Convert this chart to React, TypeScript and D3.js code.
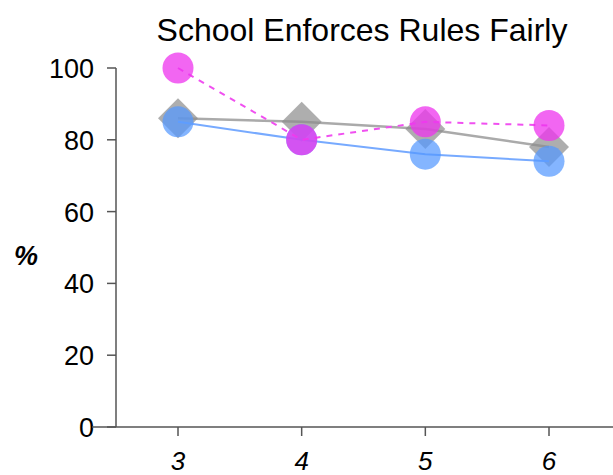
import React from "react";
import * as d3 from "d3";

const grades = [3, 4, 5, 6];
const grayValues = [86, 85, 83, 78];
const blueValues = [85, 80, 76, 74];
const magentaValues = [100, 80, 85, 84];
const yTicks = [0, 20, 40, 60, 80, 100];
const title = "School Enforces Rules Fairly";

export default function App() {
  const W = 613, H = 475;
  const x = d3.scaleLinear().domain([3, 6]).range([178, 549]);
  const y = d3.scaleLinear().domain([0, 100]).range([427, 68]);
  const line = (vals: number[]) =>
    d3.line<number>().x((_, i) => x(grades[i])).y((d) => y(d))(vals) || "";
  const font = "Liberation Sans, Arial, Helvetica, sans-serif";
  const diamond = d3.symbol().type(d3.symbolSquare).size(2 * 20 * 20)();
  return (
    <svg width={W} height={H} style={{ position: "absolute", left: 0, top: 0 }} fontFamily={font}>
      <rect width={W} height={H} fill="white" />
      <text x={362} y={41} textAnchor="middle" fontSize={32} fill="#000">{title}</text>
      {/* y axis */}
      <line x1={116} x2={116} y1={68} y2={427} stroke="#555" strokeWidth={1.5} />
      {yTicks.map((t) => (
        <g key={t}>
          <line x1={107} x2={116} y1={y(t)} y2={y(t)} stroke="#555" strokeWidth={1.5} />
          <text x={94} y={y(t) + 10} textAnchor="end" fontSize={27} fill="#000">{t}</text>
        </g>
      ))}
      <text x={26} y={265} textAnchor="middle" fontSize={27} fontWeight="bold" fontStyle="italic">%</text>
      {/* x axis */}
      <line x1={92} x2={613} y1={427} y2={427} stroke="#555" strokeWidth={1.5} />
      {grades.map((g) => (
        <g key={g}>
          <line x1={x(g)} x2={x(g)} y1={427} y2={436} stroke="#555" strokeWidth={1.5} />
          <text x={x(g)} y={470} textAnchor="middle" fontSize={26} fontStyle="italic">{g}</text>
        </g>
      ))}
      {/* gray series */}
      <path d={line(grayValues)} fill="none" stroke="#aaaaaa" strokeWidth={2.5} />
      {grayValues.map((v, i) => (
        <path key={i} d={diamond} transform={`translate(${x(grades[i])},${y(v)}) rotate(45)`} fill="#8c8c8c" fillOpacity={0.7} />
      ))}
      {/* blue series */}
      <path d={line(blueValues)} fill="none" stroke="#77aaff" strokeWidth={2} />
      {blueValues.map((v, i) => (
        <circle key={i} cx={x(grades[i])} cy={y(v)} r={15.5} fill="#5599ff" fillOpacity={0.72} />
      ))}
      {/* magenta series */}
      <path d={line(magentaValues)} fill="none" stroke="#f050f0" strokeWidth={2} strokeDasharray="6,6" />
      {magentaValues.map((v, i) => (
        <circle key={i} cx={x(grades[i])} cy={y(v)} r={15.5} fill="#ee33ee" fillOpacity={0.75} />
      ))}
    </svg>
  );
}
